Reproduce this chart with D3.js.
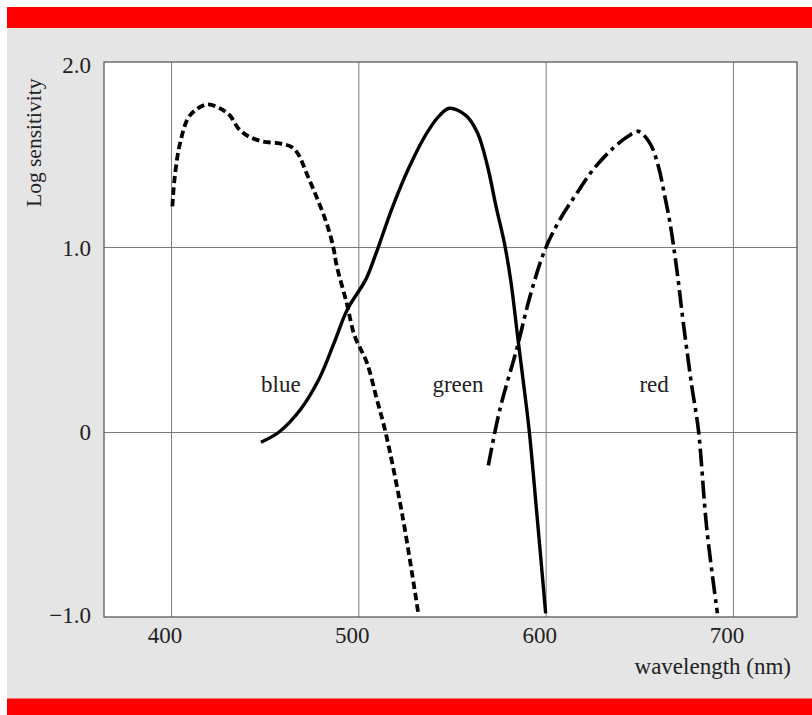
<!DOCTYPE html>
<html>
<head>
<meta charset="utf-8">
<script src="https://cdn.jsdelivr.net/npm/d3@7"></script>
<style>
  html, body { margin: 0; padding: 0; background: #ffffff; }
  svg { display: block; }
  text { font-family: "Liberation Serif", "Times New Roman", serif; fill: #222; }
</style>
</head>
<body>
<script>
// ---- data ----
const xTicks = [400, 500, 600, 700];
const xTickLabels = ["400", "500", "600", "700"];
const yTicks = [2.0, 1.0, 0, -1.0];
const yTickLabels = ["2.0", "1.0", "0", "\u22121.0"];

const blueWl  = [400.7, 402, 404.8, 410, 419, 426, 431.5, 436, 441, 449, 458, 464.5, 468, 472.3, 477.7, 483, 486.6, 488.4, 493.7, 498, 504.5, 509.8, 514.5, 523.5, 532];
const blueVal = [1.22, 1.38, 1.56, 1.71, 1.77, 1.75, 1.71, 1.64, 1.60, 1.57, 1.56, 1.54, 1.50, 1.40, 1.27, 1.13, 1.0, 0.90, 0.70, 0.52, 0.376, 0.18, 0.0, -0.45, -0.98];

const greenWl  = [448, 457.7, 469.3, 479, 487, 494, 504, 509.6, 518.4, 527.3, 536.2, 543.3, 548.6, 557.5, 563.7, 569, 573.5, 578, 581.5, 585, 588.6, 591.3, 595.2, 600];
const greenVal = [-0.055, 0, 0.124, 0.286, 0.48, 0.66, 0.825, 0.97, 1.22, 1.435, 1.61, 1.71, 1.75, 1.71, 1.615, 1.435, 1.22, 1.02, 0.81, 0.52, 0.23, 0, -0.43, -0.98];

const redWl  = [569.4, 575.6, 584.6, 591.7, 599.7, 607.7, 616.6, 625.5, 636.1, 644.2, 649.5, 655.7, 660.2, 663.7, 666.4, 670, 673.5, 678, 681.5, 686, 691.7];
const redVal = [-0.18, 0.124, 0.45, 0.735, 0.987, 1.15, 1.29, 1.42, 1.535, 1.60, 1.625, 1.56, 1.435, 1.27, 1.13, 0.88, 0.59, 0.25, 0.016, -0.52, -0.98];

const seriesNames = ["blue", "green", "red"];
const labelWl  = [458.6, 553.2, 657.9];
const labelVal = [0.216, 0.216, 0.216];

// ---- layout ----
const W = 812, H = 715;
const plot = { left: 104, right: 797, top: 62, bottom: 617 };
const FS = 23;

const svg = d3.select("body").append("svg").attr("width", W).attr("height", H);

// background panel and red bands
svg.append("rect").attr("x", 7).attr("y", 7).attr("width", W - 7).attr("height", H - 7).attr("fill", "#e5e5e5");
svg.append("rect").attr("x", 7).attr("y", 7).attr("width", W - 7).attr("height", 21).attr("fill", "#ff0000");
svg.append("rect").attr("x", 7).attr("y", 698.5).attr("width", W - 7).attr("height", H - 698.5).attr("fill", "#ff0000");

const x = d3.scaleLinear().domain([364.2, 734.2]).range([plot.left, plot.right]);
const y = d3.scaleLinear().domain([-1, 2]).range([plot.bottom, plot.top]);
// tick-label baselines (labels sit slightly inside the extreme grid lines)
const yLab = d3.scaleLinear().domain([-1, 2]).range([623, 73]);

// plot area
svg.append("rect")
  .attr("x", plot.left).attr("y", plot.top)
  .attr("width", plot.right - plot.left).attr("height", plot.bottom - plot.top)
  .attr("fill", "#ffffff");

// grid lines via axes
const gx = svg.append("g").attr("transform", `translate(0,${plot.bottom})`)
  .call(d3.axisBottom(x).tickValues(xTicks).tickSize(-(plot.bottom - plot.top)).tickFormat(""));
gx.select(".domain").remove();
gx.selectAll(".tick line").attr("stroke", "#7a7a7a").attr("stroke-width", 1);

const gy = svg.append("g").attr("transform", `translate(${plot.left},0)`)
  .call(d3.axisLeft(y).tickValues(yTicks.filter(v => v > -1 && v < 2)).tickSize(-(plot.right - plot.left)).tickFormat(""));
gy.select(".domain").remove();
gy.selectAll(".tick line").attr("stroke", "#7a7a7a").attr("stroke-width", 1);

// frame
svg.append("rect")
  .attr("x", plot.left).attr("y", plot.top)
  .attr("width", plot.right - plot.left).attr("height", plot.bottom - plot.top)
  .attr("fill", "none").attr("stroke", "#5a5a5a").attr("stroke-width", 1.3);

// tick labels
svg.append("g").selectAll("text").data(xTicks).join("text")
  .attr("x", d => x(d) - 6).attr("y", 643)
  .attr("text-anchor", "middle").attr("font-size", FS)
  .text((d, i) => xTickLabels[i]);

svg.append("g").selectAll("text").data(yTicks).join("text")
  .attr("x", 91).attr("y", d => yLab(d))
  .attr("text-anchor", "end").attr("font-size", FS)
  .text((d, i) => yTickLabels[i]);

// axis titles
svg.append("text").attr("x", 791).attr("y", 674).attr("text-anchor", "end")
  .attr("font-size", FS).text("wavelength (nm)");
svg.append("text").attr("transform", "translate(41,207) rotate(-90)")
  .attr("text-anchor", "start").attr("font-size", 21.5).text("Log sensitivity");

// curves
const line = d3.line().x(d => x(d[0])).y(d => y(d[1])).curve(d3.curveCatmullRom.alpha(0.5));
const zip = (a, b) => a.map((v, i) => [v, b[i]]);

const g = svg.append("g").attr("fill", "none").attr("stroke", "#000");
g.append("path").attr("d", line(zip(blueWl, blueVal)))
  .attr("stroke-width", 3.8).attr("stroke-dasharray", "7.5,4");
g.append("path").attr("d", line(zip(greenWl, greenVal)))
  .attr("stroke-width", 3.4);
g.append("path").attr("d", line(zip(redWl, redVal)))
  .attr("stroke-width", 3.6).attr("stroke-dasharray", "18,5,4,5");

// series labels
svg.append("g").selectAll("text").data(seriesNames).join("text")
  .attr("x", (d, i) => x(labelWl[i])).attr("y", (d, i) => y(labelVal[i]))
  .attr("text-anchor", "middle").attr("font-size", FS)
  .text(d => d);
</script>
</body>
</html>
